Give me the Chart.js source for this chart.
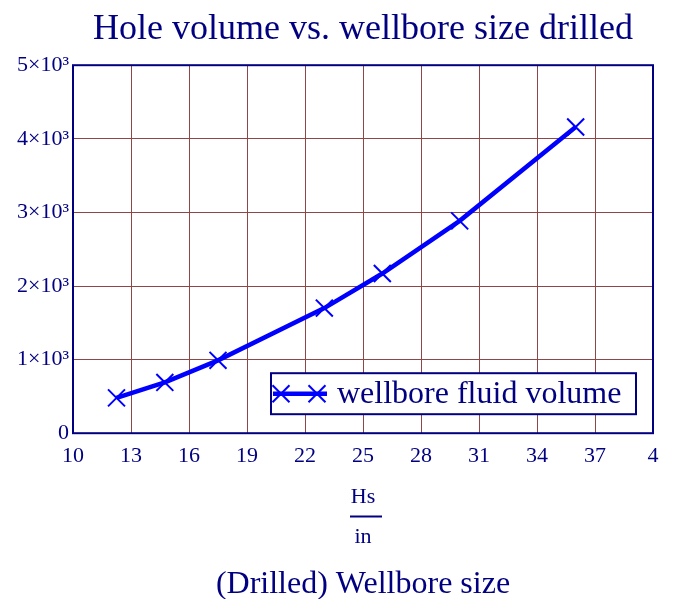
<!DOCTYPE html>
<html lang="en">
<head>
  <meta charset="UTF-8" />
  <title>Hole volume vs. wellbore size drilled</title>
  <style>
    html, body { margin: 0; padding: 0; background: #fff; }
    #wrap { width: 673px; height: 599px; }
  </style>
</head>
<body>
  <div id="wrap"><canvas id="myChart" width="673" height="599"></canvas></div>

  <script src="https://cdn.jsdelivr.net/npm/chart.js"></script>
  <script>
    // data
    const holeSizes = [12.25, 14.75, 17.5, 23, 26, 30, 36];
    const fluidVolumes = [480, 690, 990, 1700, 2170, 2885, 4160];
    const seriesName = 'wellbore fluid volume';
    const xTicks = [10, 13, 16, 19, 22, 25, 28, 31, 34, 37, 40];
    const yTicks = [0, 1000, 2000, 3000, 4000, 5000];

    const navy = '#000080';
    const gridColor = '#8e4646';
    const serif = "'Liberation Serif', 'Times New Roman', serif";

    // box round the plot, fraction bar under "Hs", legend inside the plot
    const decorations = {
      id: 'decorations',
      beforeDatasetsDraw(chart) {
        const { ctx, chartArea: ca } = chart;
        ctx.save();
        ctx.strokeStyle = navy;
        ctx.lineWidth = 2;
        ctx.strokeRect(ca.left, ca.top, ca.right - ca.left, ca.bottom - ca.top);
        ctx.restore();
      },
      afterDraw(chart) {
        const { ctx, chartArea: ca } = chart;
        const xs = chart.scales.x;
        const t = xs.options.title;
        const lh = t.font.size * t.font.lineHeight;
        const barY = xs.bottom - t.padding.bottom - lh * 1.5 - 1;
        const cx = (ca.left + ca.right) / 2 + 3;

        ctx.save();
        ctx.strokeStyle = navy;
        ctx.lineWidth = 2;
        ctx.beginPath();
        ctx.moveTo(cx - 16, barY);
        ctx.lineTo(cx + 16, barY);
        ctx.stroke();

        // legend
        const w = 365, h = 41;
        const left = ca.right - 17 - w;
        const top = ca.bottom - 19 - h;
        const midY = top + h / 2;
        ctx.fillStyle = '#fff';
        ctx.fillRect(left, top, w, h);
        ctx.strokeRect(left, top, w, h);

        ctx.strokeStyle = '#0000ff';
        ctx.lineWidth = 4.5;
        ctx.beginPath();
        ctx.moveTo(left + 2, midY);
        ctx.lineTo(left + 56, midY);
        ctx.stroke();
        ctx.lineWidth = 2;
        [left + 10, left + 46].forEach(px => {
          Chart.helpers.drawPoint(ctx, { pointStyle: 'crossRot', radius: 12, borderWidth: 2 }, px, midY);
        });

        ctx.fillStyle = navy;
        ctx.font = '32px ' + serif;
        ctx.textBaseline = 'middle';
        ctx.textAlign = 'left';
        ctx.fillText(seriesName, left + 66, midY + 1);
        ctx.restore();
      }
    };

    new Chart(document.getElementById('myChart'), {
      type: 'line',
      data: {
        datasets: [{
          label: seriesName,
          data: holeSizes.map((s, i) => ({ x: s, y: fluidVolumes[i] })),
          borderColor: '#0000ff',
          backgroundColor: '#0000ff',
          borderWidth: 4.5,
          tension: 0,
          pointStyle: 'crossRot',
          pointRadius: 12,
          pointBorderWidth: 2,
          pointBorderColor: '#0000ff'
        }]
      },
      options: {
        responsive: false,
        animation: false,
        layout: { padding: { left: 0, right: 20, top: 0, bottom: 0 } },
        plugins: {
          legend: { display: false },
          tooltip: { enabled: false },
          title: {
            display: true,
            fullSize: false,
            text: 'Hole volume vs. wellbore size drilled',
            color: navy,
            font: { family: serif, size: 36, weight: 'normal', lineHeight: 1.2 },
            padding: { top: 8, bottom: 14 }
          },
          subtitle: {
            display: true,
            fullSize: false,
            position: 'bottom',
            text: '(Drilled) Wellbore size',
            color: navy,
            font: { family: serif, size: 32, weight: 'normal', lineHeight: 0.9 },
            padding: { top: 0, bottom: 0 }
          }
        },
        scales: {
          x: {
            type: 'linear',
            min: 10,
            max: 40,
            afterBuildTicks: s => { s.ticks = xTicks.map(v => ({ value: v })); },
            afterFit: s => { s.height = 137; },
            ticks: {
              color: navy,
              padding: 10,
              maxRotation: 0,
              font: { family: serif, size: 22 },
              callback: v => (v === 40 ? '4' : String(v))
            },
            grid: { color: gridColor, lineWidth: 1, drawTicks: false },
            border: { display: false },
            title: {
              display: true,
              text: ['Hs', '', 'in'],
              color: navy,
              font: { family: serif, size: 22, lineHeight: 0.9 },
              padding: { top: 0, bottom: 23 }
            }
          },
          y: {
            min: 0,
            max: 5000,
            afterBuildTicks: s => { s.ticks = yTicks.map(v => ({ value: v })); },
            afterFit: s => { s.width = 73; },
            ticks: {
              color: navy,
              padding: 4,
              font: { family: serif, size: 22 },
              callback: v => (v === 0 ? '0' : (v / 1000) + '×10³')
            },
            grid: { color: gridColor, lineWidth: 1, drawTicks: false },
            border: { display: false }
          }
        }
      },
      plugins: [decorations]
    });
  </script>
</body>
</html>
